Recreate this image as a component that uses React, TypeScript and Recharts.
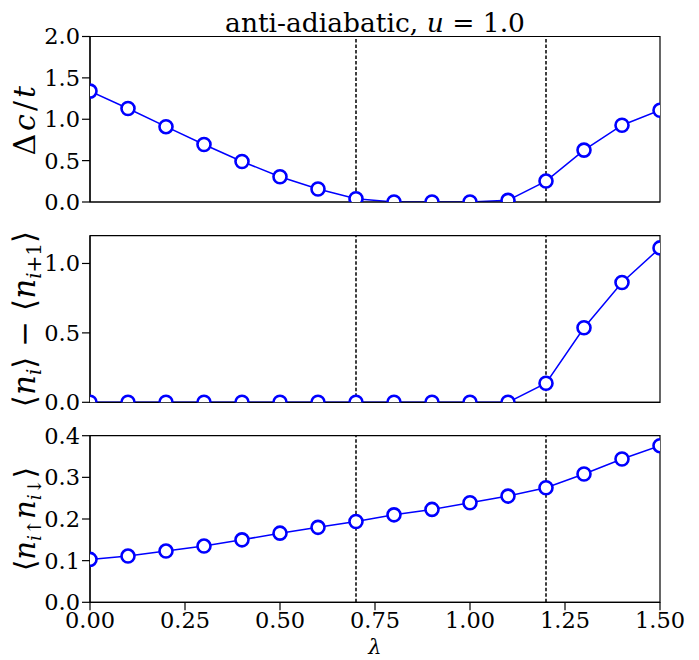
import React from "react";
import { LineChart, Line, XAxis, YAxis, ReferenceLine, ReferenceArea } from "recharts";

// lambda grid and the three measured quantities
const lambdas = [0, 0.1, 0.2, 0.3, 0.4, 0.5, 0.6, 0.7, 0.8, 0.9, 1.0, 1.1, 1.2, 1.3, 1.4, 1.5];
const chargeGap = [1.34, 1.13, 0.91, 0.695, 0.49, 0.305, 0.157, 0.04, 0, 0, 0, 0.02, 0.253, 0.627, 0.928, 1.108];
const cdwOrder = [0, 0, 0, 0, 0, 0, 0, 0, 0, 0, 0, 0, 0.137, 0.537, 0.863, 1.112];
const doubleOcc = [0.103, 0.111, 0.123, 0.135, 0.15, 0.166, 0.18, 0.194, 0.21, 0.223, 0.239, 0.255, 0.275, 0.308, 0.344, 0.376];

const xTicks = [0, 0.25, 0.5, 0.75, 1.0, 1.25, 1.5];
const transitions = [0.7, 1.2];

const FONT = "'DejaVu Serif', serif";
const BLUE = "#0000ff";

type PanelProps = {
  values: number[];
  yMax: number;
  yTicks: number[];
  top: number;
  height: number;
  marginTop: number;
  marginBottom: number;
  xAxisHeight: number;
  showXLabels: boolean;
  yLabel: React.ReactNode;
  yLabelSize: number;
  yLabelSpacing: number;
};

function Panel(p: PanelProps) {
  const data = lambdas.map((x, i) => ({ x, y: p.values[i] }));
  const plotTop = p.marginTop;
  const plotBottom = p.height - p.marginBottom - p.xAxisHeight;
  const midY = (plotTop + plotBottom) / 2;
  const tickStyle = { fill: "#000", fontSize: 22.5, fontFamily: FONT };
  return (
    <div style={{ position: "absolute", left: 0, top: p.top }}>
      <LineChart
        width={699}
        height={p.height}
        data={data}
        margin={{ top: p.marginTop, right: 39, bottom: p.marginBottom, left: 30 }}
      >
        <XAxis
          dataKey="x"
          type="number"
          domain={[0, 1.5]}
          ticks={xTicks}
          allowDataOverflow
          height={p.xAxisHeight}
          tickSize={8}
          tickMargin={2}
          axisLine={{ stroke: "#000", strokeWidth: 1.2 }}
          tickLine={{ stroke: "#000", strokeWidth: 1.2 }}
          tick={p.showXLabels ? tickStyle : false}
          tickFormatter={(v: number) => v.toFixed(2)}
        />
        <YAxis
          type="number"
          domain={[0, p.yMax]}
          ticks={p.yTicks}
          allowDataOverflow
          width={60}
          tickSize={8}
          tickMargin={2}
          axisLine={{ stroke: "#000", strokeWidth: 1.2 }}
          tickLine={{ stroke: "#000", strokeWidth: 1.2 }}
          tick={tickStyle}
          tickFormatter={(v: number) => v.toFixed(1)}
        />
        <ReferenceArea x1={0} x2={1.5} y1={0} y2={p.yMax} fill="none" stroke="#000" strokeWidth={1.2} />
        {transitions.map((t) => (
          <ReferenceLine key={t} x={t} stroke="#000" strokeWidth={1.5} strokeDasharray="3.5 2" />
        ))}
        <Line
          dataKey="y"
          stroke={BLUE}
          strokeWidth={1.5}
          dot={{ r: 6.5, fill: "#fff", stroke: BLUE, strokeWidth: 2.6 }}
          isAnimationActive={false}
        />
      </LineChart>
      <svg
        width={60}
        height={p.height}
        style={{ position: "absolute", left: 0, top: 0, overflow: "visible" }}
      >
        <text
          transform={`translate(35, ${midY}) rotate(-90)`}
          textAnchor="middle"
          fontFamily={FONT}
          fontSize={p.yLabelSize}
          fill="#000"
          letterSpacing={p.yLabelSpacing}
        >
          {p.yLabel}
        </text>
      </svg>
    </div>
  );
}

export default function App() {
  return (
    <div
      style={{
        position: "absolute",
        left: 0,
        top: 0,
        width: 699,
        height: 660,
        background: "#fff",
        overflow: "hidden",
        fontFamily: FONT,
      }}
    >
      <Panel
        values={chargeGap}
        yMax={2}
        yTicks={[0, 0.5, 1.0, 1.5, 2.0]}
        top={0}
        height={230}
        marginTop={36.5}
        marginBottom={8}
        xAxisHeight={20}
        showXLabels={false}
        yLabelSize={30}
        yLabelSpacing={3}
        yLabel={
          <>
            <tspan>Δ</tspan>
            <tspan fontStyle="italic">c</tspan>
            <tspan>/</tspan>
            <tspan fontStyle="italic">t</tspan>
          </>
        }
      />
      <Panel
        values={cdwOrder}
        yMax={1.2}
        yTicks={[0, 0.5, 1.0]}
        top={210}
        height={220}
        marginTop={25.7}
        marginBottom={7.7}
        xAxisHeight={20}
        showXLabels={false}
        yLabelSize={31}
        yLabelSpacing={0}
        yLabel={
          <>
            <tspan>⟨</tspan>
            <tspan fontStyle="italic">n</tspan>
            <tspan fontStyle="italic" fontSize={20} dy={6}>i</tspan>
            <tspan dy={-6}>⟩ − ⟨</tspan>
            <tspan fontStyle="italic">n</tspan>
            <tspan fontSize={20} dy={6}>
              <tspan fontStyle="italic">i</tspan>+1
            </tspan>
            <tspan dy={-6}>⟩</tspan>
          </>
        }
      />
      <Panel
        values={doubleOcc}
        yMax={0.4}
        yTicks={[0, 0.1, 0.2, 0.3, 0.4]}
        top={410}
        height={250}
        marginTop={25.7}
        marginBottom={17.7}
        xAxisHeight={40}
        showXLabels={true}
        yLabelSize={29}
        yLabelSpacing={0}
        yLabel={
          <>
            <tspan>⟨</tspan>
            <tspan fontStyle="italic">n</tspan>
            <tspan fontSize={19} dy={6}>
              <tspan fontStyle="italic">i</tspan>↑
            </tspan>
            <tspan fontStyle="italic" dy={-6}>n</tspan>
            <tspan fontSize={19} dy={6}>
              <tspan fontStyle="italic">i</tspan>↓
            </tspan>
            <tspan dy={-6}>⟩</tspan>
          </>
        }
      />
      <svg width={699} height={660} style={{ position: "absolute", left: 0, top: 0, pointerEvents: "none" }}>
        <text x={375} y={32} textAnchor="middle" fontFamily={FONT} fontSize={26.5} fill="#000">
          anti-adiabatic, <tspan fontStyle="italic">u</tspan> = 1.0
        </text>
        <text x={375} y={654} textAnchor="middle" fontFamily={FONT} fontStyle="italic" fontSize={21} fill="#000">
          λ
        </text>
      </svg>
    </div>
  );
}
